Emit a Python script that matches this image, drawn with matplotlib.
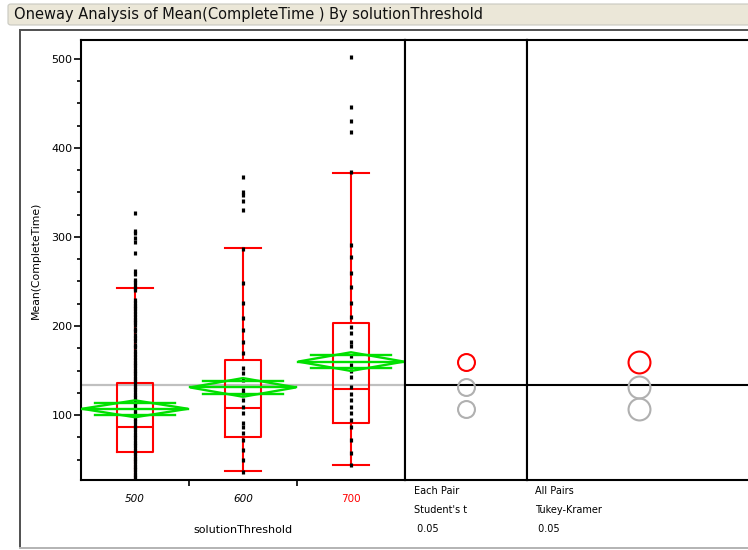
import matplotlib
matplotlib.use("Agg")
import matplotlib.pyplot as plt
from matplotlib.patches import Rectangle, Polygon, FancyBboxPatch

# ---- data ----
groups = ["500", "600", "700"]

points_500 = [327, 307, 304, 299, 294, 282, 262, 258, 252, 249, 246, 243, 240,
              229, 226, 223, 220, 217, 214, 210, 207, 204, 201, 197, 194, 190,
              186, 183, 179, 176, 172, 168, 165, 162, 159, 156, 153, 150, 147,
              144, 141, 138, 135, 132, 129, 126, 123, 120, 117, 114, 111, 108,
              105, 102, 99, 96, 93, 90, 87, 84, 81, 78, 75, 72, 69, 66, 63, 60,
              57, 54, 51, 48, 45, 42, 39, 36, 33, 30, 27]
points_600 = [367, 351, 347, 340, 330, 287, 248, 226, 209, 195, 182, 170, 153,
              147, 139, 128, 125, 117, 109, 102, 91, 87, 80, 72, 61, 49, 36]
points_700 = [502, 446, 430, 418, 373, 291, 278, 260, 244, 226, 210, 199, 192,
              182, 177, 166, 156, 149, 143, 132, 124, 117, 109, 102, 94, 87,
              72, 57, 44]

q1 = [58, 75, 91]
medians = [86, 108, 129]
q3 = [136, 162, 203]
whisker_lo = [15, 37, 44]
whisker_hi = [243, 288, 372]

means = [107, 131, 160]
ci_half = [9.5, 10.5, 10.5]
grand_mean = 133.5

# comparison circle radii, in y units
student_r = [9.5, 9.5, 9.5]
tukey_r = [12.3, 12.3, 12.3]

W, H = 748, 550
fig = plt.figure(figsize=(W / 100, H / 100), dpi=100)


def px_axes(x0, y0, x1, y1):
    return fig.add_axes([x0 / W, 1 - y1 / H, (x1 - x0) / W, (y1 - y0) / H])


# title bar and outer frame
fig.patches.append(FancyBboxPatch((8 / W, 1 - 25 / H), (760 - 8) / W, 21 / H,
                                  boxstyle="round,pad=0,rounding_size=0.004",
                                  transform=fig.transFigure, facecolor="#EBE7D8",
                                  edgecolor="#C8C8C0", lw=0.8))
fig.text(14 / W, 1 - 14.5 / H,
         "Oneway Analysis of Mean(CompleteTime ) By solutionThreshold",
         fontsize=10.5, va="center", ha="left", color="#111111")
fig.patches.append(Rectangle((20 / W, 1 - 548 / H), (770 - 20) / W, (548 - 30) / H,
                             transform=fig.transFigure, fill=False,
                             edgecolor="#505050", lw=1.4))
fig.lines.append(plt.Line2D([20 / W, 1], [1 - 548 / H] * 2, transform=fig.transFigure,
                            color="#B8B8B8", lw=1.4))

ylim = (27, 521.3)
ax = px_axes(81, 40, 405, 480)
ax_st = px_axes(405, 40, 527, 480)
ax_tk = px_axes(527, 40, 751, 480)

for a in (ax, ax_st, ax_tk):
    a.set_ylim(*ylim)
    for s in a.spines.values():
        s.set_linewidth(1.5)
        s.set_color("black")

ax.set_xlim(0, 3)
pos = [0.5, 1.5, 2.5]

# grand mean line
ax.axhline(grand_mean, color="#C0C0C0", lw=1.6, zorder=1)

# data points
for p, vals in zip(pos, [points_500, points_600, points_700]):
    ax.plot([p] * len(vals), vals, ls="none", marker="|", ms=2.8, mew=2.3,
            color="black", zorder=4)

# box plots
stats = []
for i in range(3):
    stats.append(dict(med=medians[i], q1=q1[i], q3=q3[i],
                      whislo=whisker_lo[i], whishi=whisker_hi[i], fliers=[]))
red = dict(color="#FF0000", lw=1.5)
ax.bxp(stats, positions=pos, widths=0.34, showfliers=False,
       boxprops=red, whiskerprops=red, capprops=red, medianprops=red,
       capwidths=0.34, manage_ticks=False, zorder=3)

# means diamonds
green = "#00E000"
hw = 0.49
for p, m, c in zip(pos, means, ci_half):
    ax.add_patch(Polygon([[p - hw, m], [p, m + c], [p + hw, m], [p, m - c]],
                         closed=True, fill=False, edgecolor=green, lw=1.7, zorder=5))
    ax.plot([p - hw, p + hw], [m, m], color=green, lw=1.7, zorder=5)
    off = c / 2 ** 0.5
    for y in (m + off, m - off):
        ax.plot([p - hw + 0.12, p + hw - 0.12], [y, y], color=green, lw=1.7, zorder=5)

# axes styling
ax.set_yticks([100, 200, 300, 400, 500])
ax.set_yticks(range(50, 521, 25), minor=True)
ax.tick_params(axis="y", which="major", direction="out", length=5, width=1.2,
               labelsize=8, pad=1)
ax.tick_params(axis="y", which="minor", direction="out", length=3, width=1.2)
ax.set_xticks(pos)
ax.set_xticklabels(groups)
ax.set_xticks([1, 2], minor=True)
ax.tick_params(axis="x", which="major", length=0, labelsize=7.5, pad=10)
ax.tick_params(axis="x", which="minor", direction="out", length=4, width=1.2)
for lbl, col, sty in zip(ax.get_xticklabels(), ["black", "black", "#FF0000"],
                         ["italic", "italic", "normal"]):
    lbl.set_color(col)
    lbl.set_fontstyle(sty)
ax.set_xlabel("solutionThreshold", fontsize=8, labelpad=15)
ax.set_ylabel("Mean(CompleteTime)", fontsize=7.8, labelpad=8)

# comparison circle panels
dpi = fig.dpi
circle_cols = ["#B0B0B0", "#B0B0B0", "#FF0000"]
for a, radii, texts, tx, xc in [
        (ax_st, student_r, ["Each Pair", "Student's t", " 0.05"], 414, (466 - 405) / 122),
        (ax_tk, tukey_r, ["All Pairs", "Tukey-Kramer", " 0.05"], 535, (639 - 527) / 224)]:
    a.set_xlim(0, 1)
    a.set_xticks([])
    a.set_yticks([])
    a.axhline(grand_mean, color="black", lw=1.5, zorder=1)
    px_per_unit = (a.transData.transform((0, 100))[1] - a.transData.transform((0, 0))[1]) / 100
    for m, r, col in zip(means, radii, circle_cols):
        ms = 2 * r * px_per_unit * 72 / dpi
        a.plot([xc], [m], marker="o", ms=ms, mfc="none", mec=col, mew=1.5, zorder=3)
    for k, t in enumerate(texts):
        fig.text(tx / W, 1 - (491 + 19 * k) / H, t, fontsize=7, va="center", ha="left")

fig.savefig("out.png", dpi=100)
